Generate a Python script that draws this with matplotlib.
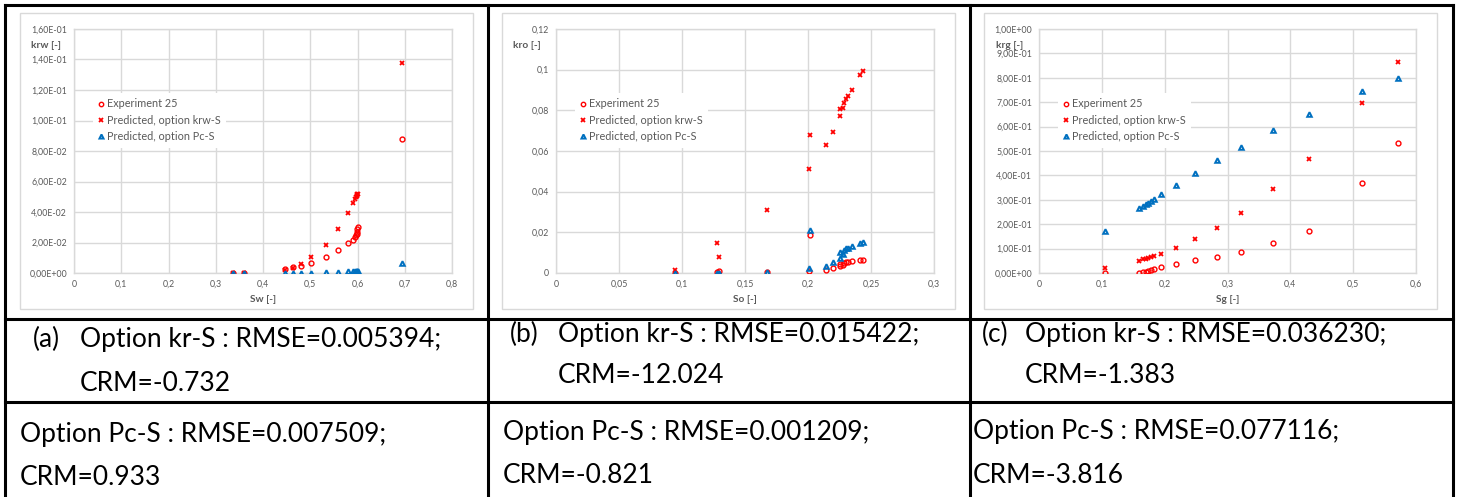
import matplotlib
matplotlib.use("Agg")
import matplotlib.pyplot as plt
from matplotlib.lines import Line2D
from matplotlib.patches import Rectangle
from matplotlib.ticker import FuncFormatter, MultipleLocator

plt.rcParams['font.family'] = ['Lato', 'DejaVu Sans']

# (a) water
sw = [0.3355, 0.359, 0.4456, 0.4626, 0.481, 0.502, 0.533, 0.559, 0.5805, 0.591,
      0.5953, 0.597, 0.598, 0.5996, 0.5996, 0.600, 0.695]
krw_exp = [0.0, 0.0, 0.0026, 0.0037, 0.0046, 0.0068, 0.0107, 0.0151, 0.0195, 0.0216,
           0.0236, 0.0247, 0.0256, 0.0271, 0.0289, 0.0300, 0.0881]
krw_krs = [0.0, 0.0, 0.0022, 0.0035, 0.0059, 0.0103, 0.0186, 0.0290, 0.0396, 0.0459,
           0.0485, 0.0498, 0.0507, 0.0512, 0.0516, 0.0516, 0.1380]
krw_pcs = [0.0, 0.0, 0.0001, 0.0001, 0.0002, 0.0003, 0.0004, 0.0007, 0.0011, 0.0012,
           0.0013, 0.0014, 0.0014, 0.0015, 0.0015, 0.0015, 0.0065]

# (b) oil
so = [0.0946, 0.1275, 0.1293, 0.1675, 0.2004, 0.2014, 0.2144, 0.2195, 0.2253, 0.2253,
      0.2274, 0.2285, 0.2300, 0.2314, 0.2346, 0.2412, 0.2436]
kro_exp = [0.0, 0.0005, 0.0010, 0.0007, 0.0010, 0.0185, 0.0016, 0.0023, 0.0033, 0.0046,
           0.0041, 0.0049, 0.0052, 0.0056, 0.0060, 0.0066, 0.0062]
kro_krs = [0.0013, 0.0146, 0.0077, 0.0310, 0.0510, 0.0680, 0.0628, 0.0695, 0.0770, 0.0805,
           0.0811, 0.0834, 0.0857, 0.0870, 0.0902, 0.0974, 0.0993]
kro_pcs = [0.0, 0.0002, 0.0, 0.0007, 0.0023, 0.0213, 0.0036, 0.0052, 0.0075, 0.0105,
           0.0095, 0.0115, 0.0121, 0.0125, 0.0133, 0.0149, 0.0154]

# (c) gas
sg = [0.105, 0.159, 0.166, 0.170, 0.173, 0.179, 0.1836, 0.194, 0.218, 0.249,
      0.284, 0.321, 0.372, 0.429, 0.5146, 0.571]
krg_exp = [0.001, 0.001, 0.003, 0.004, 0.007, 0.011, 0.015, 0.026, 0.038, 0.055,
           0.067, 0.087, 0.123, 0.172, 0.369, 0.531]
krg_krs = [0.020, 0.051, 0.056, 0.059, 0.060, 0.066, 0.071, 0.078, 0.101, 0.138,
           0.186, 0.245, 0.343, 0.469, 0.695, 0.863]
krg_pcs = [0.172, 0.265, 0.275, 0.281, 0.287, 0.296, 0.305, 0.324, 0.361, 0.410,
           0.464, 0.515, 0.585, 0.653, 0.747, 0.801]

labels = ["Experiment 25", "Predicted, option krw-S", "Predicted, option Pc-S"]
row1 = [("(a)", "Option kr-S : RMSE=0.005394;", "CRM=-0.732"),
        ("(b)", "Option kr-S : RMSE=0.015422;", "CRM=-12.024"),
        ("(c)", "Option kr-S : RMSE=0.036230;", "CRM=-1.383")]
row2 = [("Option Pc-S : RMSE=0.007509;", "CRM=0.933"),
        ("Option Pc-S : RMSE=0.001209;", "CRM=-0.821"),
        ("Option Pc-S : RMSE=0.077116;", "CRM=-3.816")]

W, H = 1461, 497
fig = plt.figure(figsize=(W / 100, H / 100), dpi=100)
fig.patch.set_facecolor('white')


def fx(x):
    return x / W


def fy(y):
    return 1 - y / H


def sci(v, pos):
    return ("%.2E" % v).replace('.', ',')


def gen(v, pos):
    s = "%g" % round(v, 6)
    return s.replace('.', ',')


panels = [
    dict(frame=(20, 13, 473, 309), area=(74, 29, 452, 273), x=sw,
         ys=(krw_exp, krw_krs, krw_pcs), xlim=0.8, xstep=0.1, ylim=0.16, ystep=0.02,
         yfmt=sci, ylabel="krw [-]", xlabel="Sw [-]", ylab_x=31),
    dict(frame=(502, 13, 955, 309), area=(556, 29, 934, 273), x=so,
         ys=(kro_exp, kro_krs, kro_pcs), xlim=0.3, xstep=0.05, ylim=0.12, ystep=0.02,
         yfmt=gen, ylabel="kro [-]", xlabel="So [-]", ylab_x=513),
    dict(frame=(984, 13, 1437, 309), area=(1039, 29, 1416, 273), x=sg,
         ys=(krg_exp, krg_krs, krg_pcs), xlim=0.6, xstep=0.1, ylim=1.0, ystep=0.1,
         yfmt=sci, ylabel="krg [-]", xlabel="Sg [-]", ylab_x=996),
]

red = '#FF0000'
blue = '#0070C0'
grid = '#D9D9D9'
tick_col = '#595959'

for p in panels:
    x0, y0, x1, y1 = p['frame']
    fig.add_artist(Rectangle((fx(x0), fy(y1)), fx(x1 - x0), (y1 - y0) / H,
                             transform=fig.transFigure, fill=False,
                             edgecolor=grid, linewidth=1.0))
    a0, b0, a1, b1 = p['area']
    ax = fig.add_axes([fx(a0), fy(b1), fx(a1 - a0), (b1 - b0) / H])
    exp_, krs, pcs = p['ys']
    ax.plot(p['x'], exp_, linestyle='none', marker='o', markersize=3.5,
            markerfacecolor='none', markeredgecolor=red, markeredgewidth=1.0,
            label=labels[0], zorder=3)
    ax.plot(p['x'], krs, linestyle='none', marker='x', markersize=3.2,
            markeredgecolor=red, markeredgewidth=1.3, label=labels[1], zorder=3)
    ax.plot(p['x'], pcs, linestyle='none', marker='^', markersize=3.3,
            markerfacecolor='none', markeredgecolor=blue, markeredgewidth=1.4,
            label=labels[2], zorder=3)
    ax.set_xlim(0, p['xlim'])
    ax.set_ylim(0, p['ylim'])
    ax.xaxis.set_major_locator(MultipleLocator(p['xstep']))
    ax.yaxis.set_major_locator(MultipleLocator(p['ystep']))
    ax.xaxis.set_major_formatter(FuncFormatter(gen))
    ax.yaxis.set_major_formatter(FuncFormatter(p['yfmt']))
    ax.grid(True, color=grid, linewidth=1.0)
    ax.set_axisbelow(True)
    for s in ax.spines.values():
        s.set_color(grid)
        s.set_linewidth(1.0)
    ax.tick_params(length=0, labelsize=6.3, colors=tick_col, pad=5)
    ax.patch.set_alpha(0)
    leg = ax.legend(loc='upper left', bbox_to_anchor=(0.035, 0.76), fontsize=7.8,
                    frameon=True, facecolor='white', edgecolor='none', framealpha=1,
                    handlelength=0.5, handletextpad=0.3, labelspacing=0.5,
                    borderpad=0.5, fancybox=False, markerscale=0.9)
    for t in leg.get_texts():
        t.set_color(tick_col)
    fig.text(fx(p['ylab_x']), fy(45), p['ylabel'], fontsize=7.3, fontweight='bold',
             color=tick_col, ha='left', va='center')
    fig.text(fx((a0 + a1) / 2), fy(299), p['xlabel'], fontsize=7.3, fontweight='bold',
             color=tick_col, ha='center', va='center')

# table rows
tsize = 19
lab_x = [33, 510, 982]
opt_x = [80, 558, 1025]
pc_x = [20, 503, 973]
r1y = [(347, 391), (342, 383), (342, 383)]
r2y = [(442, 485), (440, 483), (439, 483)]
for i in range(3):
    tag, l1, l2 = row1[i]
    fig.text(fx(lab_x[i]), fy(r1y[i][0]), tag, fontsize=tsize, ha='left', va='baseline')
    fig.text(fx(opt_x[i]), fy(r1y[i][0]), l1, fontsize=tsize, ha='left', va='baseline')
    fig.text(fx(opt_x[i]), fy(r1y[i][1]), l2, fontsize=tsize, ha='left', va='baseline')
    m1, m2 = row2[i]
    fig.text(fx(pc_x[i]), fy(r2y[i][0]), m1, fontsize=tsize, ha='left', va='baseline')
    fig.text(fx(pc_x[i]), fy(r2y[i][1]), m2, fontsize=tsize, ha='left', va='baseline')

# table grid
lw = 2.2
for xv in [5, 488, 970, 1453]:
    fig.add_artist(Line2D([fx(xv), fx(xv)], [fy(5), fy(497)], color='black',
                          linewidth=lw, transform=fig.transFigure))
for yv in [5, 319, 402]:
    fig.add_artist(Line2D([fx(5), fx(1453)], [fy(yv), fy(yv)], color='black',
                          linewidth=lw, transform=fig.transFigure))

fig.savefig("out.png", dpi=100)
